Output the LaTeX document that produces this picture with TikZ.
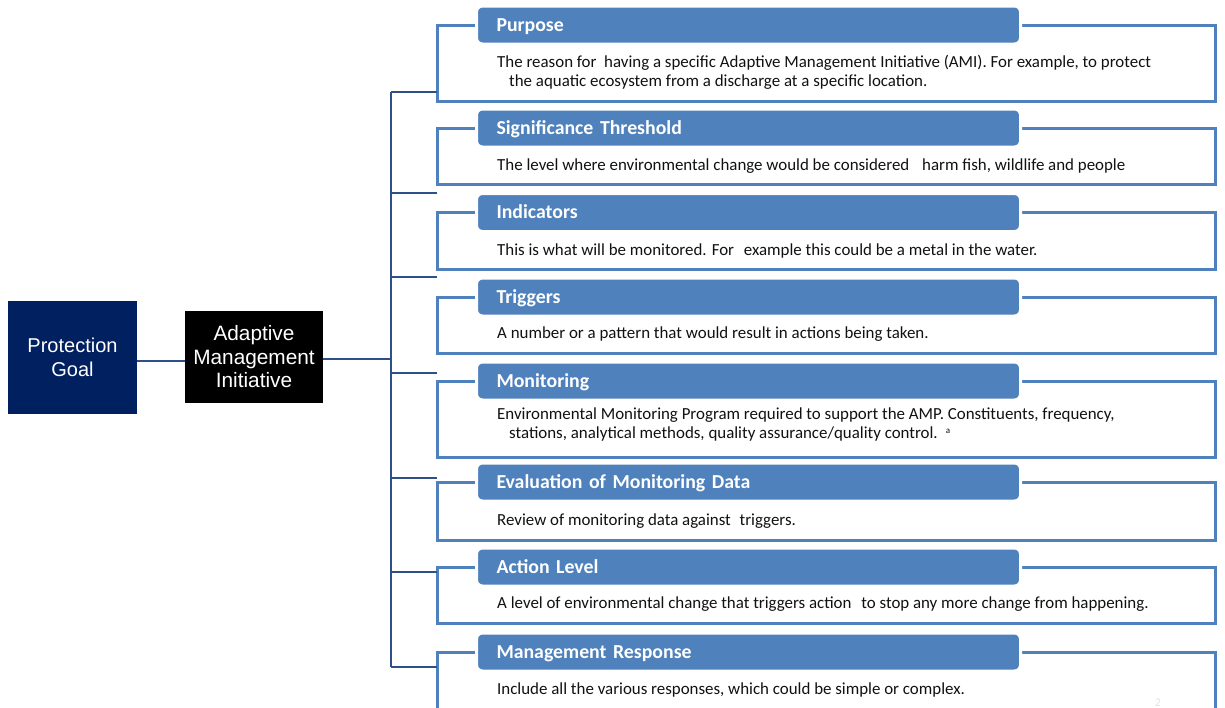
\documentclass[tikz,border=0pt]{standalone}
\usepackage{fontspec}
\setmainfont{Carlito}
\newfontfamily\boxfont{Liberation Sans}
\usetikzlibrary{positioning,calc}
\definecolor{Navy}{HTML}{002060}
\definecolor{Accent}{HTML}{4F81BD}
\definecolor{Spine}{HTML}{2C5087}
\definecolor{BodyInk}{HTML}{111111}
\definecolor{PageNo}{HTML}{E4E4E4}
\tikzset{
  goalbox/.style={fill=Navy,text=white,minimum width=129pt,minimum height=113pt,inner sep=0pt,align=center,
    font=\boxfont\fontsize{20}{23.5}\selectfont},
  amibox/.style={goalbox,fill=black,minimum width=138pt,minimum height=92pt,font=\boxfont\fontsize{20.8}{23.5}\selectfont},
  cardframe/.style={draw=Accent,line width=3pt,fill=white,minimum width=778pt,inner sep=0pt},
  cardhead/.style={fill=Accent,draw=white,line width=3pt,rounded corners=6pt,minimum width=544pt,minimum height=38pt,
    text width=504pt,text height=14pt,text depth=2pt,inner xsep=20pt,inner ysep=0pt,align=left,text=white,
    font=\fontsize{19.8}{22}\selectfont\bfseries},
  cardtext/.style={anchor=base west,inner sep=0pt,text=BodyInk,font=\fontsize{16.9}{19}\selectfont},
  link/.style={draw=Spine,line width=1.9pt},
  spoke/.style={draw=Spine,line width=1.9pt}
}

\begin{document}
\begin{tikzpicture}[x=1pt,y=-1pt]
  \clip (0,0) rectangle (1225,707);
  \node[goalbox] (goal) at (72.5,357.5) {Protection\\Goal};
  \node[amibox] (ami) at (254,357) {Adaptive\\Management\\Initiative};

  \coordinate (spine) at (391,0);
  \coordinate (br1) at (437,92);
  \coordinate (br2) at (437,193);
  \coordinate (br3) at (437,277);
  \coordinate (br4) at (437,373);
  \coordinate (br5) at (437,478);
  \coordinate (br6) at (437,572);
  \coordinate (br7) at (437,667);

  \node[cardframe,minimum height=76pt] (card1) at (826,63) {};
  \node[cardframe,minimum height=56pt] (card2) at (826,156) {};
  \node[cardframe,minimum height=57pt] (card3) at (826,240.5) {};
  \node[cardframe,minimum height=56pt] (card4) at (826,325) {};
  \node[cardframe,minimum height=76pt] (card5) at (826,419) {};
  \node[cardframe,minimum height=58pt] (card6) at (826,511) {};
  \node[cardframe,minimum height=56pt] (card7) at (826,595) {};
  \node[cardframe,minimum height=88pt] (card8) at (826,696) {};

  \node[cardhead] (head1) at (748.5,25) {Purpose};
  \node[cardhead] (head2) at (748.5,128) {Significance Threshold};
  \node[cardhead] (head3) at (748.5,212.5) {Indicators};
  \node[cardhead] (head4) at (748.5,297) {Triggers};
  \node[cardhead] (head5) at (748.5,381) {Monitoring};
  \node[cardhead] (head6) at (748.5,482) {Evaluation of Monitoring Data};
  \node[cardhead] (head7) at (748.5,567) {Action Level};
  \node[cardhead] (head8) at (748.5,652) {Management Response};

  \node[cardtext] (text1a) at (497,67) {The reason for\ \ having a specific Adaptive Management Initiative (AMI). For example, to protect};
  \node[cardtext] (text1b) at (509,86) {the aquatic ecosystem from a discharge at a specific location.};
  \node[cardtext] (text2) at (497,170) {The level where environmental change would be considered\hspace{9pt} harm fish, wildlife and people};
  \node[cardtext] (text3) at (497,255) {This is what will be monitored. For\hspace{6pt} example this could be a metal in the water.};
  \node[cardtext] (text4) at (497,338) {A number or a pattern that would result in actions being taken.};
  \node[cardtext] (text5a) at (497,419) {Environmental Monitoring Program required to support the AMP. Constituents, frequency,};
  \node[cardtext] (text5b) at (509,438) {stations, analytical methods, quality assurance/quality control.\hspace{8pt}\raisebox{5pt}{\fontsize{9}{9}\selectfont a}};
  \node[cardtext] (text6) at (497,525) {Review of monitoring data against\hspace{5pt} triggers.};
  \node[cardtext] (text7) at (497,608) {A level of environmental change that triggers action\hspace{6pt} to stop any more change from happening.};
  \node[cardtext] (text8) at (497,694) {Include all the various responses, which could be simple or complex.};
  \node[anchor=base,inner sep=0pt,text=PageNo,font=\fontsize{12}{12}\selectfont] (pageno) at (1158,706) {2};

  \draw[link] (goal.east |- 0,361) -- (ami.west |- 0,361);
  \draw[link] (ami.east |- 0,359) -- (spine |- 0,359);
  \draw[spoke] (br1 -| spine) -- (br7 -| spine);
  \draw[spoke] (br1 -| spine) -- (br1);
  \draw[spoke] (br2 -| spine) -- (br2);
  \draw[spoke] (br3 -| spine) -- (br3);
  \draw[spoke] (br4 -| spine) -- (br4);
  \draw[spoke] (br5 -| spine) -- (br5);
  \draw[spoke] (br6 -| spine) -- (br6);
  \draw[spoke] (br7 -| spine) -- (br7);
\end{tikzpicture}
\end{document}
